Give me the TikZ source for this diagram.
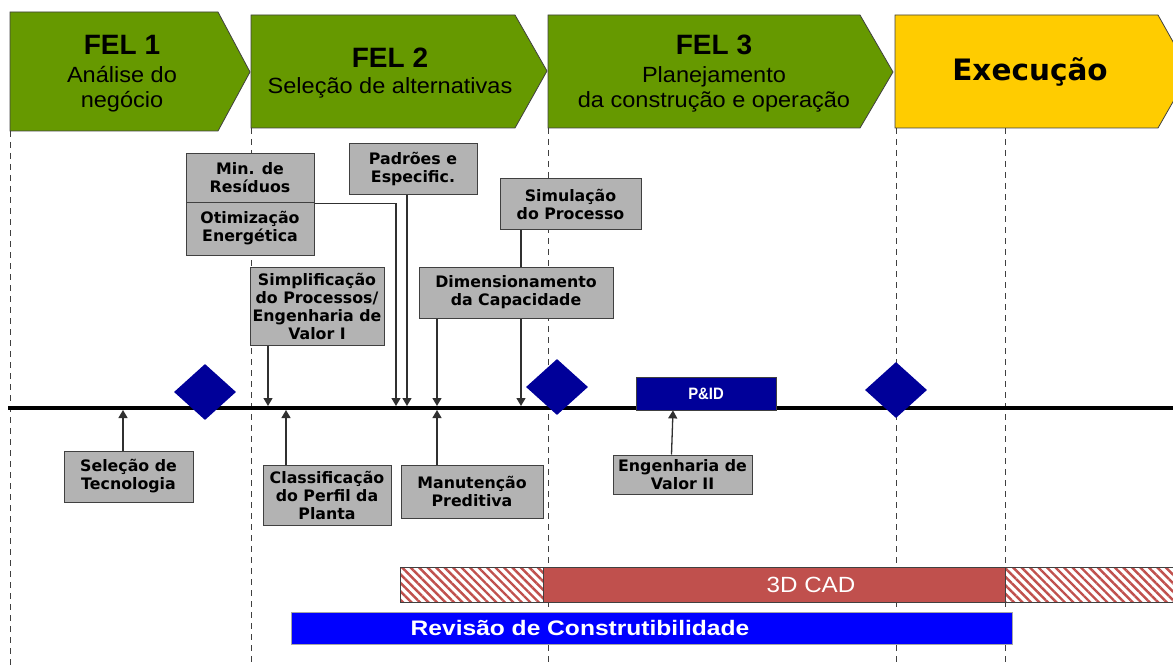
\documentclass[tikz,border=0pt]{standalone}
\usepackage{fontspec}
\newfontfamily\arialfont{Liberation Sans}
\newfontfamily\arialwide[FakeStretch=1.07]{Liberation Sans}
\newfontfamily\arialbar[FakeStretch=1.1]{Liberation Sans}
\newfontfamily\arialrev[FakeStretch=1.17]{Liberation Sans}
\newfontfamily\verdfont{DejaVu Sans}
\usetikzlibrary{arrows.meta,patterns.meta,shapes.geometric}
\definecolor{felgreen}{HTML}{669900}
\definecolor{execyellow}{HTML}{FFCC00}
\definecolor{msnavy}{HTML}{000099}
\definecolor{boxgray}{HTML}{B3B3B3}
\definecolor{edgegray}{HTML}{404040}
\definecolor{linkgray}{HTML}{303030}
\definecolor{cadred}{HTML}{C0504D}
\definecolor{revblue}{HTML}{0000FF}
\pgfdeclarelayer{back}
\pgfsetlayers{back,main}
\tikzset{
  phase/.style={draw=edgegray, line width=0.8pt},
  phasetitle/.style={font=\arialfont\bfseries\fontsize{28}{30}\selectfont, inner sep=0pt},
  phasesub/.style={font=\arialwide\fontsize{22}{25}\selectfont, inner sep=0pt, align=center},
  tool/.style={draw=edgegray, fill=boxgray, line width=1pt, align=center, inner sep=0.3pt,
    font=\verdfont\bfseries\fontsize{15.8}{18}\selectfont},
  gate/.style={diamond, fill=msnavy, minimum width=62pt, minimum height=56pt, inner sep=0pt},
  sep/.style={draw=edgegray, line width=0.9pt, dash pattern=on 6pt off 5pt},
  link/.style={draw=linkgray, line width=1.3pt},
  tip/.style={-{Triangle[width=9pt,length=8pt]}},
  bar/.style={draw=edgegray, line width=0.8pt, inner sep=0pt, minimum height=35pt},
  hatch/.style={bar, pattern={Lines[angle=-45,distance=6pt,line width=2.4pt]}, pattern color=cadred},
}
\begin{document}
\begin{tikzpicture}[x=1pt,y=-1pt]
\useasboundingbox (0,0) rectangle (1173,666);
\clip (0,0) rectangle (1173,666);

% phase chevrons
\path[phase, fill=felgreen] (10,12) -- (218,12) -- (250,72) -- (218,131) -- (10,131) -- cycle;
\path[phase, fill=felgreen] (251,15) -- (515,15) -- (547,71) -- (515,128) -- (251,128) -- cycle;
\path[phase, fill=felgreen] (548,15) -- (860,15) -- (893,72) -- (860,128) -- (548,128) -- cycle;
\path[phase, fill=execyellow] (895,15) -- (1158,15) -- (1190,72) -- (1158,128) -- (895,128) -- cycle;

\node[phasetitle] (fel1t) at (122,45) {FEL 1};
\node[phasesub]   (fel1s) at (122,89) {Análise do\\negócio};
\node[phasetitle] (fel2t) at (390,58) {FEL 2};
\node[phasesub]   (fel2s) at (390,88) {Seleção de alternativas};
\node[phasetitle] (fel3t) at (714,45) {FEL 3};
\node[phasesub]   (fel3s) at (714,89) {Planejamento\\da construção e operação};
\node[font=\verdfont\bfseries\fontsize{29.5}{31}\selectfont, inner sep=0pt] (exect) at (1030,72) {Execução};

% timeline
\coordinate (tlstart) at (8,408);
\coordinate (tlend) at (1175,408);
\draw[line width=4pt] (tlstart) -- (tlend);

% milestones
\node[gate] (g1) at (205,392) {};
\node[gate] (g2) at (557,387) {};
\node[gate] (g3) at (896,390) {};

\node[draw=edgegray, fill=msnavy, line width=0.8pt, minimum width=140pt, minimum height=33pt, inner sep=0pt,
      text=white, font=\arialfont\bfseries\fontsize{16.5}{18}\selectfont] (pid) at (706,393.5) {\scalebox{0.9}[1]{P\&ID}};

% tool boxes above the timeline
\node[tool, minimum width=128pt, minimum height=48pt] (minres) at (250,178) {Min. de\\Resíduos};
\node[tool, minimum width=128pt, minimum height=53pt] (otim) at (250,228.5) {Otimização\\Energética};
\node[tool, minimum width=128pt, minimum height=50pt] (padroes) at (413,169) {Padrões e\\Especific.};
\node[tool, minimum width=141pt, minimum height=50pt] (simul) at (570.5,204) {Simulação\\do Processo};
\node[tool, minimum width=134pt, minimum height=78pt] (simpl) at (317,306) {Simplificação\\do Processos/\\Engenharia de\\Valor I};
\node[tool, minimum width=194pt, minimum height=51pt] (dimens) at (516,292.5) {Dimensionamento\\da Capacidade};

% tool boxes below the timeline
\node[tool, minimum width=129pt, minimum height=51pt] (seltec) at (128.5,476.5) {Seleção de\\Tecnologia};
\node[tool, minimum width=128pt, minimum height=60pt] (classif) at (327,495) {Classificação\\do Perfil da\\Planta};
\node[tool, minimum width=142pt, minimum height=53pt] (manut) at (472,491.5) {Manutenção\\Preditiva};
\node[tool, minimum width=139pt, minimum height=39pt] (engval) at (682.5,474.5) {Engenharia de\\Valor II};

% points where the connectors meet the timeline
\coordinate (dSimpl) at (268,406);
\coordinate (dOtim) at (396,406);
\coordinate (dPadr) at (407,406);
\coordinate (dDim) at (437,406);
\coordinate (dSim) at (521,406);
\coordinate (uSel) at (123,410);
\coordinate (uCla) at (286,410);
\coordinate (uMan) at (437,410);

% phase separators and connectors (behind the boxes)
\begin{pgfonlayer}{back}
  \draw[sep] (10,131) -- (10,670);
  \draw[sep] (251,128) -- (251,670);
  \draw[sep] (548,128) -- (548,670);
  \draw[sep] (896,128) -- (896,670);
  \draw[sep] (1005,128) -- (1005,670);

  \draw[link, tip] ([yshift=-2pt]otim.north east) -| (dOtim);
  \draw[link, tip] (padroes.south -| dPadr) -- (dPadr);
  \draw[link, tip] (simpl.south -| dSimpl) -- (dSimpl);
  \draw[link, tip] (dimens.south -| dDim) -- (dDim);
  \draw[link, tip] (simul.south -| dSim) -- (dSim);
  \draw[link, tip] (seltec.north -| uSel) -- (uSel);
  \draw[link, tip] (classif.north -| uCla) -- (uCla);
  \draw[link, tip] (manut.north -| uMan) -- (uMan);
  \draw[link, tip] ([xshift=-11pt]engval.north) -- ([xshift=-33pt]pid.south);
\end{pgfonlayer}

% 3D CAD bar
\node[hatch, minimum width=143pt] (cadleft) at (471.5,584.5) {};
\node[bar, fill=cadred, minimum width=462pt] (cad) at (774,584.5) {};
\node[hatch, minimum width=172pt] (cadright) at (1091,584.5) {};
\node[text=white, inner sep=0pt, font=\arialbar\fontsize{22}{24}\selectfont] (cadtext) at (811,585) {3D CAD};

% constructability review bar
\node[draw=gray!70, fill=revblue, line width=1pt, inner sep=0pt, minimum width=721pt, minimum height=32pt] (rev) at (651.5,628) {};
\node[text=white, inner sep=0pt, font=\arialrev\bfseries\fontsize{21}{24}\selectfont] (revtext) at (580,628) {Revisão de Construtibilidade};
\end{tikzpicture}
\end{document}
